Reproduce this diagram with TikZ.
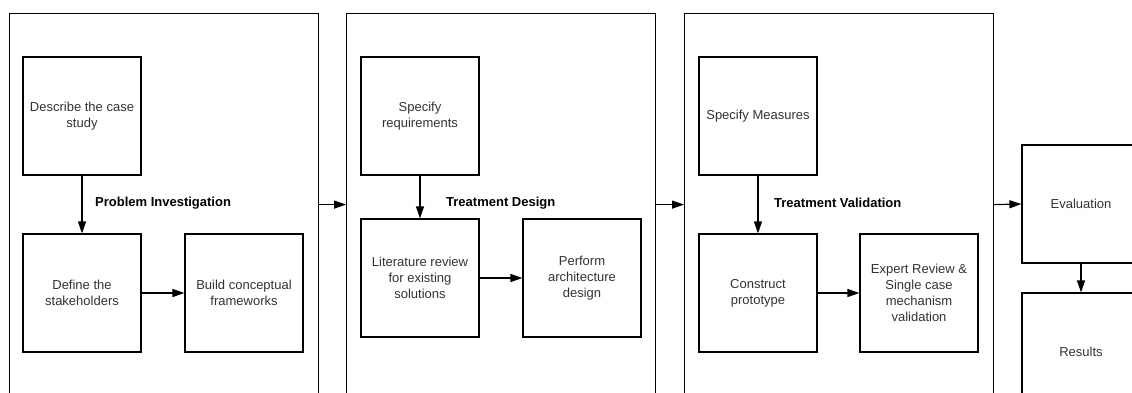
\documentclass[tikz,border=0pt]{standalone}
\usepackage{fontspec}
\setmainfont{Liberation Sans}
\usetikzlibrary{arrows.meta}
\definecolor{steptext}{HTML}{333333}
\begin{document}
\begin{tikzpicture}[x=1pt,y=-1pt,
  panel/.style={draw,line width=1.2pt,minimum width=309pt,minimum height=382pt,anchor=north west,inner sep=0pt},
  stepbox/.style={draw,line width=1.2pt,minimum width=118pt,minimum height=118pt,inner sep=0pt,align=center,
    text=steptext,font=\fontsize{13}{16}\selectfont},
  phase/.style={anchor=west,inner sep=0pt,font=\fontsize{13}{16}\selectfont\bfseries},
  flow/.style={line width=1.2pt,-{Triangle[length=12pt,width=8pt]}}]
\useasboundingbox (0,0) rectangle (1132,392);
\clip (0,0) rectangle (1132,392);
\fill[white] (0,0) rectangle (1132,392);

% phase panels
\node[panel] (p1) at (8.5,13) {};
\node[panel] (p2) at (346,13) {};
\node[panel] (p3) at (684,13) {};

% problem investigation
\node[stepbox] (a) at (82,116) {Describe the case\\study};
\node[stepbox] (b) at (82,293) {Define the\\stakeholders};
\node[stepbox] (c) at (244,293) {Build conceptual\\frameworks};
\node[phase] (l1) at (95,203) {Problem Investigation};

% treatment design
\node[stepbox] (d) at (420,116) {Specify\\requirements};
\node[stepbox] (e) at (420,278) {Literature review\\for existing\\solutions};
\node[stepbox] (f) at (582,278) {Perform\\architecture\\design};
\node[phase] (l2) at (446,203) {Treatment Design};

% treatment validation
\node[stepbox] (g) at (758,116) {Specify Measures};
\node[stepbox] (h) at (758,293) {Construct\\prototype};
\node[stepbox] (i) at (919,293) {Expert Review \&\\Single case\\mechanism\\validation};
\node[phase] (l3) at (774,203) {Treatment Validation};

% evaluation
\node[stepbox] (ev) at (1081,204) {Evaluation};
\node[stepbox] (res) at (1081,352) {Results};

% connectors
\draw[flow] (a) -- (b);
\draw[flow] (b) -- (c);
\draw[flow] (d) -- (e);
\draw[flow] (e) -- (f);
\draw[flow] (g) -- (h);
\draw[flow] (h) -- (i);
\draw[flow] (p1.east) -- (p2.west);
\draw[flow] (p2.east) -- (p3.west);
\draw[flow] (p3.east) -- (ev.west);
\draw[flow] (ev) -- (res);
\end{tikzpicture}
\end{document}
